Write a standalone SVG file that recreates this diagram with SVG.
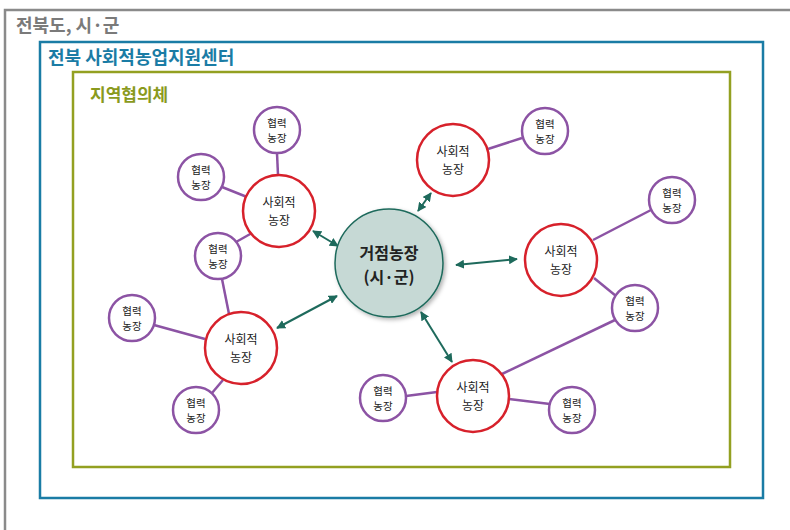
<svg xmlns="http://www.w3.org/2000/svg" width="790" height="530" viewBox="0 0 790 530">
<style>
.t{font-family:"Noto Sans CJK KR","Noto Sans",sans-serif}
.title{font-weight:bold;font-size:18px}
.soc{fill:#fff;stroke:#d7212b;stroke-width:2.5}
.coop{fill:#fff;stroke:#8c53a4;stroke-width:2.5}
.ln{stroke:#8c53a4;stroke-width:2.5;fill:none}
.ar{stroke:#1e6a5c;stroke-width:2;fill:none;marker-start:url(#ah);marker-end:url(#ah)}
.st{font-size:12px;fill:#222;text-anchor:middle}
.ct{font-size:10.5px;fill:#222;text-anchor:middle}
</style>
<defs>
<marker id="ah" viewBox="0 0 10 10" refX="9" refY="5" markerWidth="4.5" markerHeight="4.5" orient="auto-start-reverse" markerUnits="strokeWidth">
<path d="M0,0 L10,5 L0,10 z" fill="#1e6a5c"/>
</marker>
<filter id="sh" x="-20%" y="-20%" width="140%" height="140%">
<feDropShadow dx="2" dy="2" stdDeviation="2" flood-color="#000" flood-opacity="0.3"/>
</filter>
</defs>
<g id="frames">
<path d="M5,530 V10 H790" fill="none" stroke="#8a8a8a" stroke-width="2.5"/>
<rect x="40" y="42" width="723" height="456" fill="none" stroke="#1a7ca5" stroke-width="2.5"/>
<rect x="73" y="72" width="657" height="395" fill="none" stroke="#93a021" stroke-width="2.5"/>
<text class="t title" x="16" y="32" fill="#7a7a7a">전북도, 시·군</text>
<text class="t title" x="48" y="64" fill="#1a7ca5">전북 사회적농업지원센터</text>
<text class="t title" x="90" y="101" fill="#8a9a1d" style="font-size:17px">지역협의체</text>
</g>
<g id="connectors">
<line class="ln" x1="277" y1="153" x2="278" y2="175"/>
<line class="ln" x1="222" y1="187" x2="247" y2="197"/>
<line class="ln" x1="236" y1="242" x2="252" y2="233"/>
<line class="ln" x1="222" y1="279" x2="229" y2="314"/>
<line class="ln" x1="154" y1="325" x2="205" y2="339"/>
<line class="ln" x1="212" y1="393" x2="223" y2="380"/>
<line class="ln" x1="522" y1="138" x2="488" y2="149"/>
<line class="ln" x1="651" y1="210" x2="593" y2="240"/>
<line class="ln" x1="616" y1="296" x2="594" y2="278"/>
<line class="ln" x1="615" y1="320" x2="502" y2="374"/>
<line class="ln" x1="406" y1="396" x2="437" y2="392"/>
<line class="ln" x1="550" y1="404" x2="509" y2="399"/>
<line class="ar" x1="313" y1="231" x2="338" y2="246"/>
<line class="ar" x1="418" y1="211" x2="431" y2="193"/>
<line class="ar" x1="456" y1="265" x2="517" y2="259"/>
<line class="ar" x1="277" y1="328" x2="337" y2="296"/>
<line class="ar" x1="421" y1="312" x2="452" y2="362"/>
</g>
<g id="hub">
<circle cx="389" cy="263" r="54" fill="#c6d9d5" stroke="#1e6a5c" stroke-width="1.5" filter="url(#sh)"/>
<text class="t" text-anchor="middle" font-size="16" font-weight="bold" fill="#222"><tspan x="389" y="259">거점농장</tspan><tspan x="389" y="283">(시·군)</tspan></text>
</g>
<g id="social1"><circle class="soc" cx="279" cy="211" r="36"/><text class="t st"><tspan x="279" y="207">사회적</tspan><tspan x="279" y="225">농장</tspan></text></g>
<g id="social2"><circle class="soc" cx="453" cy="160" r="36"/><text class="t st"><tspan x="453" y="156">사회적</tspan><tspan x="453" y="174">농장</tspan></text></g>
<g id="social3"><circle class="soc" cx="561" cy="260" r="36"/><text class="t st"><tspan x="561" y="256">사회적</tspan><tspan x="561" y="274">농장</tspan></text></g>
<g id="social4"><circle class="soc" cx="241" cy="348" r="36"/><text class="t st"><tspan x="241" y="344">사회적</tspan><tspan x="241" y="362">농장</tspan></text></g>
<g id="social5"><circle class="soc" cx="473" cy="396" r="36"/><text class="t st"><tspan x="473" y="392">사회적</tspan><tspan x="473" y="410">농장</tspan></text></g>
<g id="coop1"><circle class="coop" cx="277" cy="130" r="23"/><text class="t ct"><tspan x="277" y="126.5">협력</tspan><tspan x="277" y="142">농장</tspan></text></g>
<g id="coop2"><circle class="coop" cx="201" cy="177" r="23"/><text class="t ct"><tspan x="201" y="173.5">협력</tspan><tspan x="201" y="189">농장</tspan></text></g>
<g id="coop3"><circle class="coop" cx="218" cy="256" r="23"/><text class="t ct"><tspan x="218" y="252.5">협력</tspan><tspan x="218" y="268">농장</tspan></text></g>
<g id="coop4"><circle class="coop" cx="132" cy="318" r="23"/><text class="t ct"><tspan x="132" y="314.5">협력</tspan><tspan x="132" y="330">농장</tspan></text></g>
<g id="coop5"><circle class="coop" cx="196" cy="410" r="23"/><text class="t ct"><tspan x="196" y="406.5">협력</tspan><tspan x="196" y="422">농장</tspan></text></g>
<g id="coop6"><circle class="coop" cx="545" cy="131" r="23"/><text class="t ct"><tspan x="545" y="127.5">협력</tspan><tspan x="545" y="143">농장</tspan></text></g>
<g id="coop7"><circle class="coop" cx="672" cy="200" r="23"/><text class="t ct"><tspan x="672" y="196.5">협력</tspan><tspan x="672" y="212">농장</tspan></text></g>
<g id="coop8"><circle class="coop" cx="635" cy="308" r="23"/><text class="t ct"><tspan x="635" y="304.5">협력</tspan><tspan x="635" y="320">농장</tspan></text></g>
<g id="coop9"><circle class="coop" cx="383" cy="398" r="23"/><text class="t ct"><tspan x="383" y="394.5">협력</tspan><tspan x="383" y="410">농장</tspan></text></g>
<g id="coop10"><circle class="coop" cx="572" cy="410" r="23"/><text class="t ct"><tspan x="572" y="406.5">협력</tspan><tspan x="572" y="422">농장</tspan></text></g>
</svg>
